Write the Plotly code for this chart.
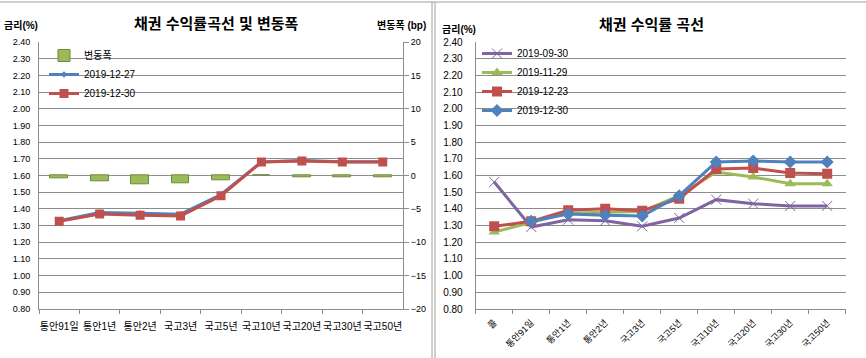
import plotly.graph_objects as go

# ---- data ----
cats_left = ["통안91일", "통안1년", "통안2년", "국고3년", "국고5년", "국고10년", "국고20년", "국고30년", "국고50년"]
chg_bp = [-0.4, -0.9, -1.3, -1.1, -0.7, 0.0, -0.3, -0.2, -0.2]
y_1227 = [1.330, 1.379, 1.375, 1.369, 1.487, 1.682, 1.691, 1.684, 1.684]
y_1230 = [1.326, 1.370, 1.362, 1.358, 1.480, 1.682, 1.688, 1.682, 1.682]

cats_right = ["콜", "통안91일", "통안1년", "통안2년", "국고3년", "국고5년", "국고10년", "국고20년", "국고30년", "국고50년"]
y_0930 = [1.562, 1.292, 1.336, 1.330, 1.296, 1.346, 1.456, 1.432, 1.418, 1.418]
y_1129 = [1.262, 1.320, 1.375, 1.380, 1.385, 1.480, 1.622, 1.592, 1.552, 1.552]
y_1223 = [1.296, 1.326, 1.392, 1.402, 1.390, 1.462, 1.640, 1.646, 1.616, 1.612]
y_1230r = [None] + y_1230

rate_ticks = [round(0.8 + 0.1 * i, 2) for i in range(17)]
bp_ticks = [-20, -15, -10, -5, 0, 5, 10, 15, 20]

BLUE = "#4F81BD"
RED = "#C0504D"
GREEN = "#9BBB59"
PURPLE = "#8064A2"
GRID = "#8c8c8c"
FONT = "Liberation Sans, Noto Sans CJK KR, sans-serif"

W, H = 866, 358
def px(x):
    return x / W
def py(y):
    return 1 - y / H

fig = go.Figure()

# left chart
fig.add_trace(go.Bar(x=cats_left, y=chg_bp, name="변동폭", xaxis="x", yaxis="y2",
                     marker=dict(color=GREEN, line=dict(color="#71893F", width=1)),
                     width=0.44, legend="legend"))
fig.add_trace(go.Scatter(x=cats_left, y=y_1227, name="2019-12-27", xaxis="x", yaxis="y",
                         mode="lines+markers", line=dict(color=BLUE, width=3),
                         marker=dict(symbol="diamond", size=5, color=BLUE), legend="legend"))
fig.add_trace(go.Scatter(x=cats_left, y=y_1230, name="2019-12-30", xaxis="x", yaxis="y",
                         mode="lines+markers", line=dict(color=RED, width=3),
                         marker=dict(symbol="square", size=9, color=RED), legend="legend"))

# right chart
fig.add_trace(go.Scatter(x=cats_right, y=y_0930, name="2019-09-30", xaxis="x2", yaxis="y3",
                         mode="lines+markers", line=dict(color=PURPLE, width=3),
                         marker=dict(symbol="x-thin", size=10, line=dict(color=PURPLE, width=1)),
                         legend="legend2"))
fig.add_trace(go.Scatter(x=cats_right, y=y_1129, name="2019-11-29", xaxis="x2", yaxis="y3",
                         mode="lines+markers", line=dict(color=GREEN, width=3),
                         marker=dict(symbol="triangle-up", size=10, color=GREEN), legend="legend2"))
fig.add_trace(go.Scatter(x=cats_right, y=y_1223, name="2019-12-23", xaxis="x2", yaxis="y3",
                         mode="lines+markers", line=dict(color=RED, width=3),
                         marker=dict(symbol="square", size=10, color=RED), legend="legend2"))
fig.add_trace(go.Scatter(x=cats_right, y=y_1230r, name="2019-12-30", xaxis="x2", yaxis="y3",
                         mode="lines+markers", line=dict(color=BLUE, width=3),
                         marker=dict(symbol="diamond", size=10, color=BLUE), legend="legend2"))

tickfont = dict(family=FONT, size=9, color="#000")
catfont = dict(family=FONT, size=10, color="#000")

ydom = [py(309), py(42.3)]

def ann(text, x, y, xanchor="center", size=10):
    return dict(text=text, x=px(x), y=py(y), xref="paper", yref="paper",
                xanchor=xanchor, yanchor="middle", showarrow=False,
                font=dict(family=FONT, size=size, color="#000"))

fig.update_layout(
    width=W, height=H, margin=dict(l=0, r=0, t=0, b=0, autoexpand=False),
    paper_bgcolor="white", plot_bgcolor="white",
    font=dict(family=FONT, size=10, color="#000"),
    showlegend=True, bargap=0,
    xaxis=dict(domain=[px(39), px(403)], anchor="y", type="category", automargin=False,
               categoryorder="array", categoryarray=cats_left,
               range=[-0.5, 8.5], showline=True, linecolor=GRID, linewidth=1,
               ticks="outside", ticklen=4, tickcolor=GRID, tickson="boundaries",
               tickangle=0, tickfont=catfont, ticklabelstandoff=8, showgrid=False),
    yaxis=dict(domain=ydom, anchor="x", range=[0.8, 2.4], tickvals=rate_ticks, automargin=False,
               tickformat=".2f", showgrid=True, gridcolor=GRID, gridwidth=1,
               showline=True, linecolor=GRID, linewidth=1, zeroline=False,
               ticks="", tickfont=tickfont, ticklabelstandoff=6),
    yaxis2=dict(overlaying="y", side="right", anchor="x", range=[-20, 20], automargin=False,
                tickvals=bp_ticks, showgrid=False, zeroline=False,
                showline=True, linecolor=GRID, linewidth=1,
                ticks="outside", ticklen=5, tickcolor=GRID, tickfont=tickfont),
    xaxis2=dict(domain=[px(475.7), px(845.7)], anchor="y3", type="category", automargin=False,
                categoryorder="array", categoryarray=cats_right,
                range=[-0.5, 9.5], showline=True, linecolor=GRID, linewidth=1,
                ticks="outside", ticklen=4, tickcolor=GRID, tickson="boundaries",
                tickangle=-45, tickfont=dict(family=FONT, size=9, color="#000"),
                ticklabelstandoff=4, showgrid=False),
    yaxis3=dict(domain=ydom, anchor="x2", range=[0.8, 2.4], tickvals=rate_ticks, automargin=False,
                tickformat=".2f", showgrid=True, gridcolor=GRID, gridwidth=1,
                showline=True, linecolor=GRID, linewidth=1, zeroline=False,
                ticks="", tickfont=dict(family=FONT, size=10, color="#000"),
                ticklabelstandoff=10),
    legend=dict(x=px(44), y=py(41), xanchor="left", yanchor="top",
                bgcolor="rgba(0,0,0,0)", font=dict(family=FONT, size=10, color="#000"),
                tracegroupgap=0, itemwidth=30, traceorder="normal"),
    legend2=dict(x=px(477), y=py(39), xanchor="left", yanchor="top",
                 bgcolor="rgba(0,0,0,0)", font=dict(family=FONT, size=10, color="#000"),
                 tracegroupgap=0, itemwidth=30, traceorder="normal"),
    annotations=[
        ann("<b>채권 수익률곡선 및 변동폭</b>", 216, 23, size=15),
        ann("<b>채권 수익률 곡선</b>", 651, 25, size=15),
        ann("<b>금리(%)</b>", 2, 26, xanchor="left"),
        ann("<b>변동폭 (bp)</b>", 428, 26, xanchor="right"),
        ann("<b>금리(%)</b>", 440, 29, xanchor="left"),
    ],
    shapes=[
        dict(type="line", xref="paper", yref="paper", x0=0, x1=1, y0=py(2), y1=py(2),
             line=dict(color="#a0a0a0", width=1)),
        dict(type="line", xref="paper", yref="paper", x0=px(432), x1=px(432), y0=0, y1=py(2),
             line=dict(color="#a0a0a0", width=1)),
        dict(type="line", xref="paper", yref="paper", x0=px(435), x1=px(435), y0=0, y1=py(2),
             line=dict(color="#a0a0a0", width=1)),
    ],
)

fig.write_html("out.html", config={"displayModeBar": False},
               post_script="document.body.style.margin='0';")
